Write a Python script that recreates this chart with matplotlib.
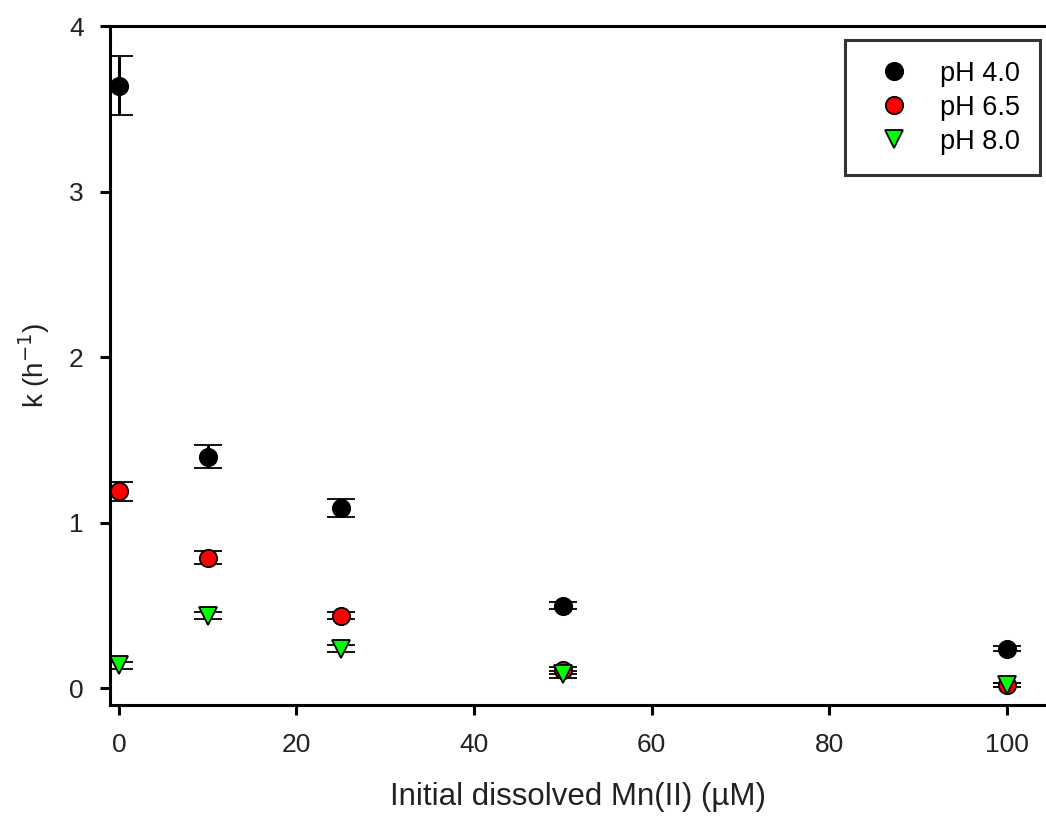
import matplotlib
matplotlib.use('Agg')
from matplotlib import pyplot as plt

matplotlib.rc('font', family=['Liberation Sans', 'DejaVu Sans'], size=19)

mn = [0, 10, 25, 50, 100]

k_ph40 = [3.64, 1.40, 1.09, 0.50, 0.24]
err_ph40 = [0.18, 0.07, 0.055, 0.02, 0.015]

k_ph65 = [1.19, 0.79, 0.44, 0.11, 0.02]
err_ph65 = [0.058, 0.04, 0.02, 0.02, 0.01]

k_ph80 = [0.14, 0.44, 0.24, 0.085, 0.02]
err_ph80 = [0.02, 0.02, 0.02, 0.02, 0.01]

series = [
    ('pH 4.0', k_ph40, err_ph40, 'o', 'black'),
    ('pH 6.5', k_ph65, err_ph65, 'o', '#ff0000'),
    ('pH 8.0', k_ph80, err_ph80, 'v', '#00ff00'),
]

fig = plt.figure(figsize=(10.46, 8.17), dpi=100)
ax = fig.add_axes([110 / 1046, 1 - 705 / 817, 1 - 110 / 1046, (705 - 26) / 817])

for label, y, err, marker, color in series:
    ax.errorbar(mn, y, yerr=err, fmt=marker, color='black', ecolor='black',
                markerfacecolor=color, markeredgecolor='black', markersize=12.5,
                markeredgewidth=1.3, elinewidth=2.2, capsize=10, capthick=2.2,
                label=label)

ax.set_xlim(-1, 104.4)
ax.set_ylim(-0.1, 4.0)
ax.set_xticks([0, 20, 40, 60, 80, 100])
ax.set_yticks([0, 1, 2, 3, 4])
ax.spines['right'].set_visible(False)
for s in ['left', 'bottom', 'top']:
    ax.spines[s].set_linewidth(2.2)
ax.tick_params(width=2.2, length=7, labelsize=19, colors='black', labelcolor='#222222')
ax.tick_params(axis='x', pad=13)
ax.tick_params(axis='y', pad=12)

ax.set_xlabel('Initial dissolved Mn(II) (\u00b5M)', fontsize=22.5, color='#222222', labelpad=18)
ax.set_ylabel('k (h$^{-1}$)', fontsize=20, color='#222222', labelpad=12)

handles, labels = ax.get_legend_handles_labels()
handles = [h[0] for h in handles]
leg = ax.legend(handles, labels, loc='upper right', bbox_to_anchor=(0.9936, 0.979),
                fontsize=19.5, frameon=True, fancybox=False, edgecolor='black',
                borderpad=0.75, handlelength=2.15, handletextpad=0.6,
                labelspacing=0.3, borderaxespad=0)
leg.get_frame().set_linewidth(2.2)

fig.savefig('out.png', dpi=100)
